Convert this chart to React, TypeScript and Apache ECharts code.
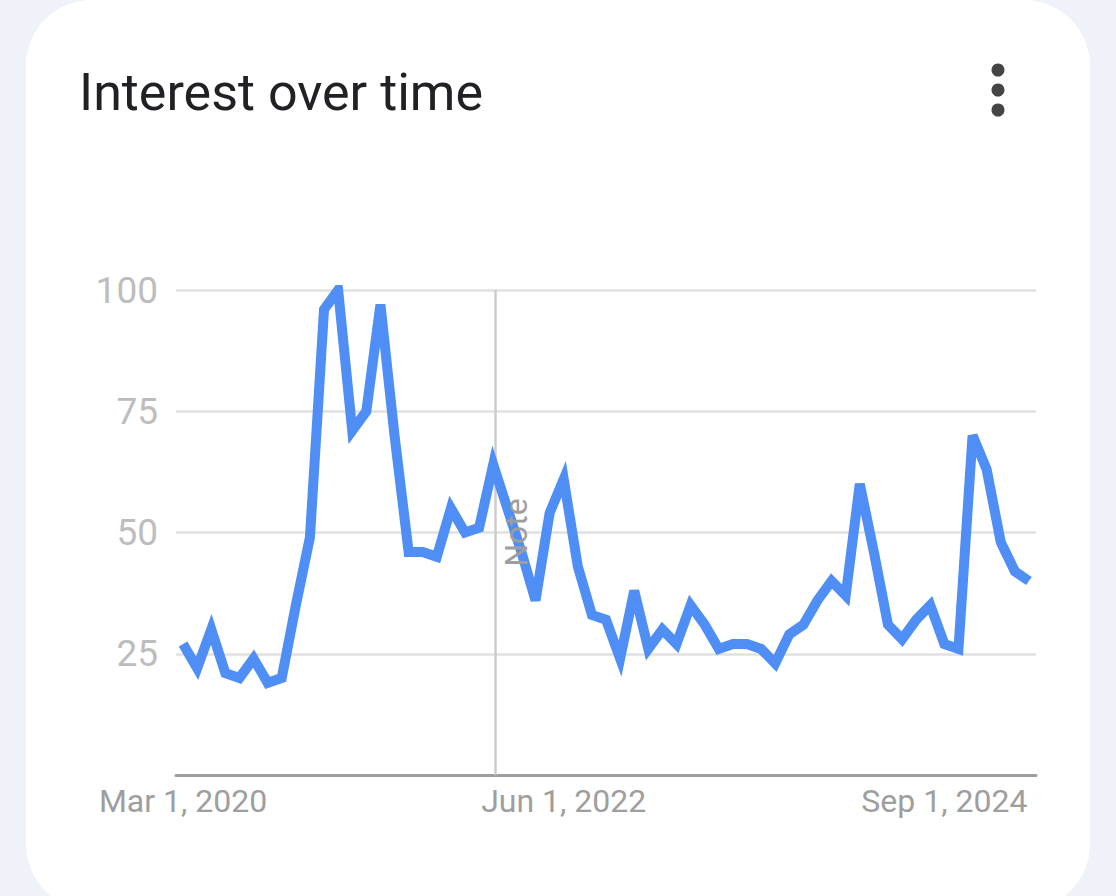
import React, { useEffect, useRef } from "react";
import * as echarts from "echarts";

// Monthly categories, Mar 2020 .. Mar 2025 (61 months)
const MONTH_NAMES = ["Jan", "Feb", "Mar", "Apr", "May", "Jun", "Jul", "Aug", "Sep", "Oct", "Nov", "Dec"];
const months: string[] = [];
for (let k = 0; k < 61; k++) {
  const m = (2 + k) % 12;
  const y = 2020 + Math.floor((2 + k) / 12);
  months.push(`${MONTH_NAMES[m]} 1, ${y}`);
}

const interest = [
  27, 22, 30, 21, 20, 24, 19, 20, 35, 49,
  96, 100, 71, 75, 97, 70, 46, 46, 45, 55,
  50, 51, 64, 55, 46, 36, 54, 61, 43, 33,
  32, 24, 38, 26, 30, 27, 35, 31, 26, 27,
  27, 26, 23, 29, 31, 36, 40, 37, 60, 46,
  31, 28, 32, 35, 27, 26, 70, 63, 48, 42,
  40,
];

const xTickLabels = ["Mar 1, 2020", "Jun 1, 2022", "Sep 1, 2024"];
const yTicks = [25, 50, 75, 100];
const noteMonth = "Jan 1, 2022";
const title = "Interest over time";

export default function App() {
  const ref = useRef<HTMLDivElement>(null);
  useEffect(() => {
    if (!ref.current) return;
    const chart = echarts.init(ref.current, undefined, { renderer: "svg" });
    const tickIdx = new Map<number, string>();
    xTickLabels.forEach((l) => tickIdx.set(months.indexOf(l), l));
    const noteIdx = months.indexOf(noteMonth);
    const data = interest.map((v, i) => [i, v]);
    const option: any = {
      animation: false,
      backgroundColor: "#eff2f8",
      grid: { left: 176, right: 80, top: 290, bottom: 121, containLabel: false },
      xAxis: {
        type: "value",
        min: -0.5,
        max: 60.5,
        interval: 0.5,
        axisLine: { show: true, lineStyle: { color: "#9e9e9e", width: 3 } },
        axisTick: { show: false },
        splitLine: { show: false },
        axisLabel: {
          show: true,
          color: "#9e9e9e",
          fontSize: 32,
          fontFamily: "Roboto",
          margin: 10,
          showMinLabel: true,
          showMaxLabel: true,
          formatter: (v: number) => (Number.isInteger(v) && tickIdx.has(v) ? tickIdx.get(v) : ""),
        },
      },
      yAxis: {
        type: "value",
        min: 0,
        max: 100,
        interval: 25,
        axisLine: { show: false },
        axisTick: { show: false },
        splitLine: { show: true, lineStyle: { color: "#e0e0e0", width: 2.5 } },
        axisLabel: {
          color: "#bdbdbd",
          fontSize: 37,
          fontFamily: "Roboto",
          margin: 18,
          formatter: (v: number) => (yTicks.includes(v) ? String(v) : ""),
        },
      },
      series: [
        {
          type: "line",
          data,
          symbol: "none",
          lineStyle: { color: "#4e8ef5", width: 10, join: "miter", cap: "butt" },
          markLine: {
            silent: true,
            symbol: "none",
            label: { show: false },
            lineStyle: { color: "#cccccc", width: 2.5, type: "solid" },
            data: [{ xAxis: noteIdx + 0.15 }],
            z: 1,
          },
          z: 3,
        },
      ],
      graphic: [
        {
          type: "rect",
          shape: { x: 26, y: 0, width: 1064, height: 910, r: 66 },
          style: { fill: "#ffffff" },
          z: -10,
          silent: true,
        },
        {
          type: "text",
          x: 79,
          y: 92,
          style: {
            text: title,
            fontSize: 52,
            fontFamily: "Roboto",
            fill: "#202124",
            textVerticalAlign: "middle",
            verticalAlign: "middle",
          },
        },
        { type: "circle", shape: { cx: 998, cy: 70, r: 6.5 }, style: { fill: "#444444" } },
        { type: "circle", shape: { cx: 998, cy: 90, r: 6.5 }, style: { fill: "#444444" } },
        { type: "circle", shape: { cx: 998, cy: 110, r: 6.5 }, style: { fill: "#444444" } },
      ],
    };
    chart.setOption(option);
    const px = chart.convertToPixel({ xAxisIndex: 0 }, noteIdx) as number;
    const py = chart.convertToPixel({ yAxisIndex: 0 }, 50) as number;
    chart.setOption({
      graphic: [
        ...option.graphic,
        {
          type: "text",
          x: px + 23,
          y: py,
          rotation: Math.PI / 2,
          style: {
            text: "Note",
            fontSize: 32,
            fontFamily: "Roboto",
            fill: "#9e9e9e",
            align: "center",
            verticalAlign: "middle",
          },
          z: 10,
        },
      ],
    });
    return () => chart.dispose();
  }, []);
  return (
    <div
      ref={ref}
      style={{ position: "fixed", left: 0, top: 0, width: 1116, height: 896 }}
    />
  );
}
